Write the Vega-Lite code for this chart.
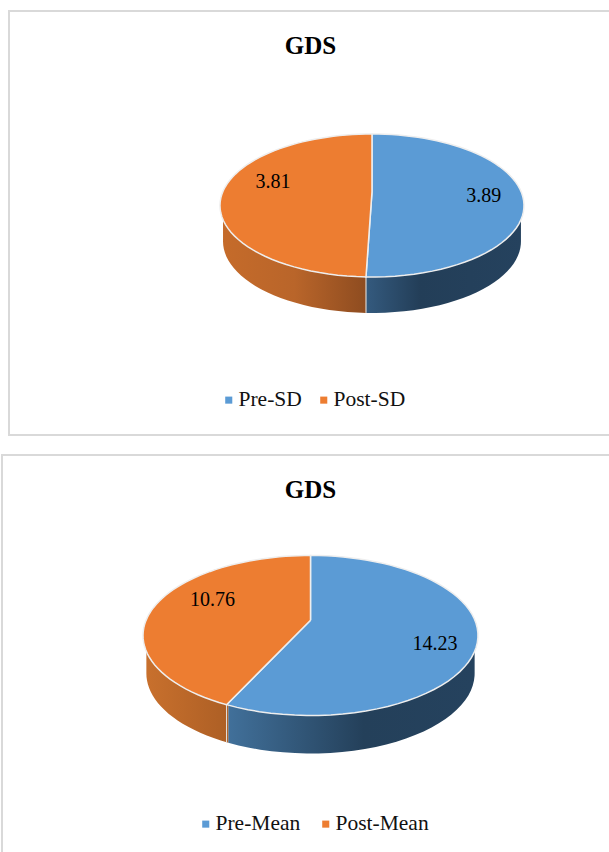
{
  "$schema": "https://vega.github.io/schema/vega-lite/v6.json",
  "description": "Two tilted GDS pies: slice outlines are derived from the stacked values, with a perspective tilt and a side wall.",
  "background": "white",
  "padding": {"left": 1, "top": 10, "right": 0, "bottom": 0},
  "center": true,
  "spacing": 18,
  "config": {
    "view": {"stroke": "#d9d9d9", "strokeWidth": 2},
    "font": "Liberation Serif",
    "title": {"font": "Liberation Serif", "fontSize": 25, "fontWeight": "bold", "color": "#000000"},
    "legend": {"labelFont": "Liberation Serif", "labelFontSize": 21.5, "labelColor": "#111111", "symbolType": "square", "symbolSize": 50, "symbolStrokeWidth": 0, "direction": "horizontal", "orient": "none", "title": null, "columns": 2}
  },
  "resolve": {"scale": {"fill": "independent"}, "legend": {"fill": "independent"}},
  "vconcat": [
    {
      "width": 603,
      "height": 424,
      "title": {"text": "GDS", "offset": -48},
      "data": {"values": [
        {"label": "Pre-SD", "value": 3.89, "rank": 1},
        {"label": "Post-SD", "value": 3.81, "rank": 2}
      ]},
      "transform": [
        {"stack": "value", "as": ["start", "end"], "sort": [{"field": "rank"}]},
        {"joinaggregate": [{"op": "sum", "field": "value", "as": "total"}]},
        {"calculate": "[-1,0,1,2,3,4,5,6,7,8,9,10,11,12,13,14,15,16,17,18,19,20,21,22,23,24,25,26,27,28,29,30,31,32,33,34,35,36,37,38,39,40,41,42,43,44,45,46,47,48,49,50,51,52,53,54,55,56,57,58,59,60,61]", "as": "tick"},
        {"flatten": ["tick"]},
        {"calculate": "clamp(datum.tick/60,0,1)", "as": "f"},
        {"calculate": "2*PI*(datum.start+datum.f*(datum.end-datum.start))/datum.total", "as": "th"},
        {"calculate": "1+0.19*cos(datum.th)", "as": "d"},
        {"calculate": "0.9818*sin(datum.th)/datum.d", "as": "px"},
        {"calculate": "(cos(datum.th)+0.19)/datum.d", "as": "py"},
        {"calculate": "datum.tick<0||datum.tick>60?0:datum.px", "as": "rimX"},
        {"calculate": "datum.tick<0||datum.tick>60?0.19:datum.py", "as": "rimY"},
        {"calculate": "0.98*(datum.py>0?(datum.th<PI?1:-1):datum.px)", "as": "wallX"},
        {"calculate": "min(datum.py,0)", "as": "wallY"},
        {"calculate": "datum.wallY-0.503", "as": "wallBase"},
        {"calculate": "2*PI*(datum.start+datum.end)/2/datum.total", "as": "mid"},
        {"calculate": "0.72*0.9818*sin(datum.mid)/(1+0.19*cos(datum.mid))", "as": "labelX"},
        {"calculate": "0.72*(cos(datum.mid)+0.19)/(1+0.19*cos(datum.mid))", "as": "labelY"}
      ],
      "encoding": {
        "x": {"type": "quantitative", "axis": null, "scale": {"domain": [-2.388, 1.579], "nice": false, "zero": false}},
        "y": {"type": "quantitative", "axis": null, "scale": {"domain": [-3.21, 2.72], "nice": false, "zero": false}}
      },
      "layer": [
        {
          "transform": [{"filter": "datum.rank==1&&datum.tick>=0&&datum.tick<=60"}],
          "mark": {"type": "area", "color": {"gradient": "linear", "x1": 0, "y1": 0, "x2": 1, "y2": 0, "stops": [{"offset": 0, "color": "#345a7e"}, {"offset": 0.35, "color": "#233e58"}, {"offset": 1, "color": "#25425e"}]}},
          "encoding": {
            "x": {"field": "wallX"},
            "y": {"field": "wallY"},
            "y2": {"field": "wallBase"}
          }
        },
        {
          "transform": [{"filter": "datum.rank==2&&datum.tick>=0&&datum.tick<=60"}],
          "mark": {"type": "area", "color": {"gradient": "linear", "x1": 0, "y1": 0, "x2": 1, "y2": 0, "stops": [{"offset": 0, "color": "#c56b2a"}, {"offset": 0.5, "color": "#b9652a"}, {"offset": 1, "color": "#8e4c20"}]}},
          "encoding": {
            "x": {"field": "wallX"},
            "y": {"field": "wallY"},
            "y2": {"field": "wallBase"}
          }
        },
        {
          "transform": [{"filter": "datum.rank==1&&datum.tick==60"}],
          "mark": {"type": "rule", "stroke": "#e6e6e6", "strokeWidth": 1},
          "encoding": {
            "x": {"field": "rimX"},
            "y": {"field": "rimY"},
            "y2": {"field": "wallBase"}
          }
        },
        {
          "mark": {"type": "line", "stroke": "#eeeeee", "strokeWidth": 1.5, "interpolate": "linear"},
          "encoding": {
            "x": {"field": "rimX"},
            "y": {"field": "rimY"},
            "order": {"field": "tick", "type": "quantitative"},
            "fill": {
              "field": "label",
              "type": "nominal",
              "scale": {"domain": ["Pre-SD", "Post-SD"], "range": ["#5b9bd5", "#ed7d31"]},
              "legend": {"legendX": 209, "legendY": 378, "columnPadding": 11, "labelOffset": -1}
            }
          }
        },
        {
          "transform": [{"filter": "datum.rank==1&&datum.tick==0"}],
          "mark": {"type": "text", "fontSize": 20, "color": "#000000", "dx": 4, "dy": -1},
          "encoding": {"x": {"field": "labelX"}, "y": {"field": "labelY"}, "text": {"field": "value", "type": "quantitative", "format": ".2f"}}
        },
        {
          "transform": [{"filter": "datum.rank==2&&datum.tick==0"}],
          "mark": {"type": "text", "fontSize": 20, "color": "#000000", "dx": 8, "dy": -13},
          "encoding": {"x": {"field": "labelX"}, "y": {"field": "labelY"}, "text": {"field": "value", "type": "quantitative", "format": ".2f"}}
        }
      ]
    },
    {
      "width": 617,
      "height": 406,
      "title": {"text": "GDS", "offset": -48},
      "data": {"values": [
        {"label": "Pre-Mean", "value": 14.23, "rank": 1},
        {"label": "Post-Mean", "value": 10.76, "rank": 2}
      ]},
      "transform": [
        {"stack": "value", "as": ["start", "end"], "sort": [{"field": "rank"}]},
        {"joinaggregate": [{"op": "sum", "field": "value", "as": "total"}]},
        {"calculate": "[-1,0,1,2,3,4,5,6,7,8,9,10,11,12,13,14,15,16,17,18,19,20,21,22,23,24,25,26,27,28,29,30,31,32,33,34,35,36,37,38,39,40,41,42,43,44,45,46,47,48,49,50,51,52,53,54,55,56,57,58,59,60,61]", "as": "tick"},
        {"flatten": ["tick"]},
        {"calculate": "clamp(datum.tick/60,0,1)", "as": "f"},
        {"calculate": "2*PI*(datum.start+datum.f*(datum.end-datum.start))/datum.total", "as": "th"},
        {"calculate": "1+0.19*cos(datum.th)", "as": "d"},
        {"calculate": "0.9818*sin(datum.th)/datum.d", "as": "px"},
        {"calculate": "(cos(datum.th)+0.19)/datum.d", "as": "py"},
        {"calculate": "datum.tick<0||datum.tick>60?0:datum.px", "as": "rimX"},
        {"calculate": "datum.tick<0||datum.tick>60?0.19:datum.py", "as": "rimY"},
        {"calculate": "0.98*(datum.py>0?(datum.th<PI?1:-1):datum.px)", "as": "wallX"},
        {"calculate": "min(datum.py,0)", "as": "wallY"},
        {"calculate": "datum.wallY-0.475", "as": "wallBase"},
        {"calculate": "2*PI*(datum.start+datum.end)/2/datum.total", "as": "mid"},
        {"calculate": "0.72*0.9818*sin(datum.mid)/(1+0.19*cos(datum.mid))", "as": "labelX"},
        {"calculate": "0.72*(cos(datum.mid)+0.19)/(1+0.19*cos(datum.mid))", "as": "labelY"}
      ],
      "encoding": {
        "x": {"type": "quantitative", "axis": null, "scale": {"domain": [-1.842, 1.842], "nice": false, "zero": false}},
        "y": {"type": "quantitative", "axis": null, "scale": {"domain": [-2.819, 2.256], "nice": false, "zero": false}}
      },
      "layer": [
        {
          "transform": [{"filter": "datum.rank==1&&datum.tick>=0&&datum.tick<=60"}],
          "mark": {"type": "area", "color": {"gradient": "linear", "x1": 0, "y1": 0, "x2": 1, "y2": 0, "stops": [{"offset": 0, "color": "#41709a"}, {"offset": 0.55, "color": "#24405a"}, {"offset": 1, "color": "#25425e"}]}},
          "encoding": {
            "x": {"field": "wallX"},
            "y": {"field": "wallY"},
            "y2": {"field": "wallBase"}
          }
        },
        {
          "transform": [{"filter": "datum.rank==2&&datum.tick>=0&&datum.tick<=60"}],
          "mark": {"type": "area", "color": {"gradient": "linear", "x1": 0, "y1": 0, "x2": 1, "y2": 0, "stops": [{"offset": 0, "color": "#c8702d"}, {"offset": 1, "color": "#ad5f25"}]}},
          "encoding": {
            "x": {"field": "wallX"},
            "y": {"field": "wallY"},
            "y2": {"field": "wallBase"}
          }
        },
        {
          "transform": [{"filter": "datum.rank==1&&datum.tick==60"}],
          "mark": {"type": "rule", "stroke": "#e6e6e6", "strokeWidth": 1},
          "encoding": {
            "x": {"field": "rimX"},
            "y": {"field": "rimY"},
            "y2": {"field": "wallBase"}
          }
        },
        {
          "mark": {"type": "line", "stroke": "#eeeeee", "strokeWidth": 1.5, "interpolate": "linear"},
          "encoding": {
            "x": {"field": "rimX"},
            "y": {"field": "rimY"},
            "order": {"field": "tick", "type": "quantitative"},
            "fill": {
              "field": "label",
              "type": "nominal",
              "scale": {"domain": ["Pre-Mean", "Post-Mean"], "range": ["#5b9bd5", "#ed7d31"]},
              "legend": {"legendX": 193, "legendY": 358, "columnPadding": 14, "labelOffset": -1}
            }
          }
        },
        {
          "transform": [{"filter": "datum.rank==1&&datum.tick==0"}],
          "mark": {"type": "text", "fontSize": 20, "color": "#000000", "dx": 4, "dy": 7},
          "encoding": {"x": {"field": "labelX"}, "y": {"field": "labelY"}, "text": {"field": "value", "type": "quantitative", "format": ".2f"}}
        },
        {
          "transform": [{"filter": "datum.rank==2&&datum.tick==0"}],
          "mark": {"type": "text", "fontSize": 20, "color": "#000000", "dx": 13, "dy": -13},
          "encoding": {"x": {"field": "labelX"}, "y": {"field": "labelY"}, "text": {"field": "value", "type": "quantitative", "format": ".2f"}}
        }
      ]
    }
  ]
}
